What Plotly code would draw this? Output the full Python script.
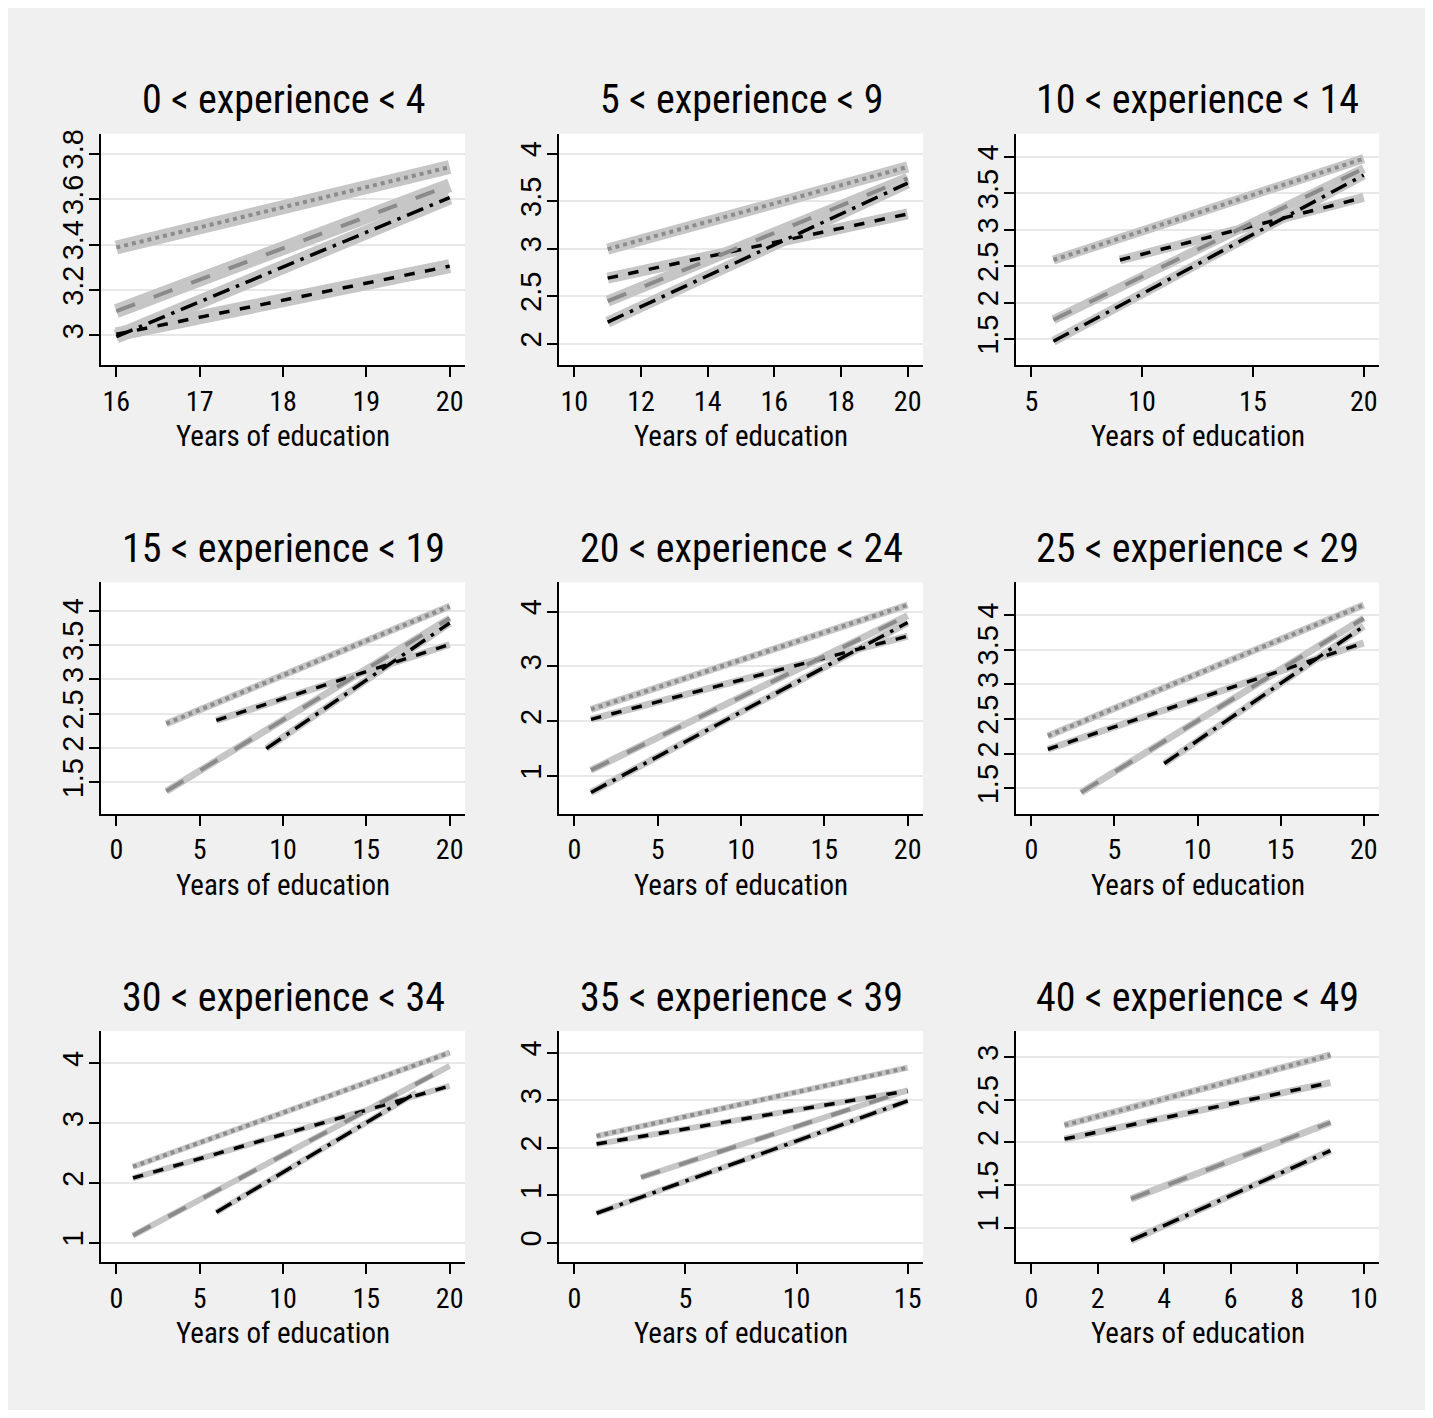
import plotly.graph_objects as go

# page is offset by the 8px body margin; figure sized to fit the window
OFF = 8
WF, HF = 1417, 1402

# ---------------- data ----------------
panel_titles = ["0 < experience < 4", "5 < experience < 9", "10 < experience < 14",
                "15 < experience < 19", "20 < experience < 24", "25 < experience < 29",
                "30 < experience < 34", "35 < experience < 39", "40 < experience < 49"]

x_tick_vals = [[16, 17, 18, 19, 20], [10, 12, 14, 16, 18, 20], [5, 10, 15, 20],
               [0, 5, 10, 15, 20], [0, 5, 10, 15, 20], [0, 5, 10, 15, 20],
               [0, 5, 10, 15, 20], [0, 5, 10, 15], [0, 2, 4, 6, 8, 10]]
y_tick_vals = [[3, 3.2, 3.4, 3.6, 3.8], [2, 2.5, 3, 3.5, 4], [1.5, 2, 2.5, 3, 3.5, 4],
               [1.5, 2, 2.5, 3, 3.5, 4], [1, 2, 3, 4], [1.5, 2, 2.5, 3, 3.5, 4],
               [1, 2, 3, 4], [0, 1, 2, 3, 4], [1, 1.5, 2, 2.5, 3]]
y_ranges = [[2.870, 3.888], [1.776, 4.21], [1.144, 4.319], [1.046, 4.411], [0.315, 4.533],
            [1.136, 4.47], [0.672, 4.539], [-0.413, 4.455], [0.595, 3.303]]

# series A: grey dotted (top line)
A_x = [[16, 20], [11, 20], [6, 20], [3, 20], [1, 20], [1, 20], [1, 20], [1, 15], [1, 9]]
A_y = [[3.387, 3.741], [2.995, 3.86], [2.585, 3.976], [2.356, 4.063], [2.218, 4.121],
       [2.257, 4.144], [2.272, 4.178], [2.245, 3.685], [2.202, 3.023]]
# series B: black dashed
B_x = [[16, 20], [11, 20], [9, 20], [6, 20], [1, 20], [1, 20], [1, 20], [1, 15], [1, 9]]
B_y = [[3.005, 3.305], [2.69, 3.365], [2.585, 3.443], [2.404, 3.507], [2.036, 3.552],
       [2.065, 3.598], [2.083, 3.622], [2.077, 3.196], [2.039, 2.70]]
# series C: grey long dash
C_x = [[16, 20], [11, 20], [6, 20], [3, 20], [1, 20], [3, 20], [1, 20], [3, 15], [3, 9]]
C_y = [[3.107, 3.661], [2.447, 3.74], [1.764, 3.84], [1.374, 3.889], [1.109, 3.927],
       [1.443, 3.952], [1.122, 3.956], [1.378, 3.21], [1.339, 2.233]]
# series D: black dash-dot
D_x = [[16, 20], [11, 20], [6, 20], [9, 20], [1, 20], [8, 20], [6, 18], [1, 15], [3, 9]]
D_y = [[2.995, 3.607], [2.227, 3.69], [1.469, 3.75], [1.993, 3.82], [0.703, 3.80],
       [1.859, 3.837], [1.511, 3.51], [0.622, 2.986], [0.852, 1.903]]

# ---------------- styles ----------------
NARROW = "Liberation Sans Narrow, Arial Narrow, Roboto Condensed, sans-serif"
REGULAR = "Liberation Sans, Arial, sans-serif"
BAND = "#c6c6c6"
band_w = [14, 11, 9, 7, 7, 7, 6, 6, 7]
series = [
    (A_x, A_y, dict(color="#8c8c8c", width=4, dash="dot")),
    (B_x, B_y, dict(color="#000000", width=3.5, dash="dash")),
    (C_x, C_y, dict(color="#8a8a8a", width=4, dash="longdash")),
    (D_x, D_y, dict(color="#000000", width=3.5, dash="longdashdot")),
]

# plot-area positions in page pixels
col_px = [(101, 465), (559, 923), (1016, 1379)]
row_px = [(130, 362), (580, 812), (1030, 1262)]


def fx(px):
    return (px - OFF) / WF


def fy(py):
    return 1 - (py - OFF) / HF


fig = go.Figure()
layout = {}
annotations = []

for i in range(9):
    r, c = divmod(i, 3)
    k = "" if i == 0 else str(i + 1)
    xa, ya = "x" + k, "y" + k
    for sx, sy, st in series:
        fig.add_trace(go.Scatter(x=sx[i], y=sy[i], mode="lines", xaxis=xa, yaxis=ya,
                                 line=dict(color=BAND, width=band_w[i]),
                                 showlegend=False, hoverinfo="skip"))
    for sx, sy, st in series:
        fig.add_trace(go.Scatter(x=sx[i], y=sy[i], mode="lines", xaxis=xa, yaxis=ya,
                                 line=st, showlegend=False))
    xt = x_tick_vals[i]
    span = xt[-1] - xt[0]
    x0p, x1p = col_px[c]
    y0p, y1p = row_px[r]
    layout["xaxis" + k] = dict(
        domain=[fx(x0p), fx(x1p)], anchor=ya,
        range=[xt[0] - 0.046 * span, xt[-1] + 0.046 * span],
        tickmode="array", tickvals=xt, ticks="outside", ticklen=10, tickwidth=2,
        tickcolor="black", showline=True, linecolor="black", linewidth=2,
        showgrid=False, zeroline=False, ticklabelstandoff=0,
        tickfont=dict(family=NARROW, size=28, color="black"))
    layout["yaxis" + k] = dict(
        domain=[fy(y1p), fy(y0p)], anchor=xa,
        range=y_ranges[i],
        tickmode="array", tickvals=y_tick_vals[i], tickangle=-90,
        ticks="outside", ticklen=10, tickwidth=2, tickcolor="black",
        showline=True, linecolor="black", linewidth=2,
        showgrid=True, gridcolor="#e8e8e8", gridwidth=2, zeroline=False,
        ticklabelstandoff=-6,
        tickfont=dict(family=REGULAR, size=29, color="black"))
    cx = (fx(x0p) + fx(x1p)) / 2
    annotations.append(dict(text=panel_titles[i], x=cx, y=fy(y0p - 34),
                            xref="paper", yref="paper", showarrow=False,
                            xanchor="center", yanchor="middle",
                            font=dict(family=NARROW, size=40, color="black")))
    annotations.append(dict(text="Years of education", x=cx, y=fy(y1p + 71),
                            xref="paper", yref="paper", showarrow=False,
                            xanchor="center", yanchor="middle",
                            font=dict(family=NARROW, size=29, color="black")))

fig.update_layout(
    width=WF, height=HF,
    margin=dict(l=0, r=0, t=0, b=0),
    paper_bgcolor="#f0f0f0", plot_bgcolor="white",
    annotations=annotations,
    **layout,
)

fig.write_html("out.html")
